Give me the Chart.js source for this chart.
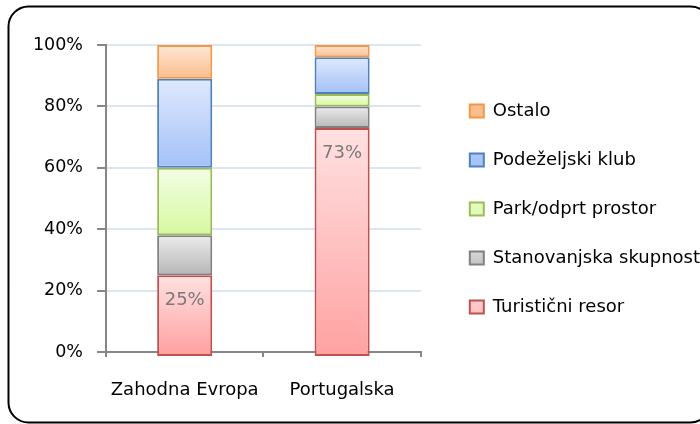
<!DOCTYPE html>
<html>
<head>
<meta charset="utf-8">
<script src="https://cdn.jsdelivr.net/npm/chart.js@4/dist/chart.umd.min.js"></script>
<style>
  html, body { margin: 0; padding: 0; background: #fff; }
  #wrap { width: 700px; height: 424px; }
</style>
</head>
<body>
<div id="wrap"><canvas id="myChart" width="700" height="424"></canvas></div>
<script>
// data (percent of each column)
const categories = ['Zahodna Evropa', 'Portugalska'];
const turisticniResor = [25, 73];
const stanovanjskaSkupnost = [13, 7];
const parkOdprtProstor = [22, 4];
const podezeljskiKlub = [29, 12];
const ostalo = [11, 4];
const yTicks = [0, 20, 40, 60, 80, 100];

// fill goes light at the top of each block to darker at the bottom
function gradientFill(top, bottom, mid) {
	return function(c) {
		const chart = c.chart;
		if (c.type !== 'data' || !chart.chartArea) return mid;
		const y = chart.scales.y;
		let lo = 0;
		for (let k = 0; k < c.datasetIndex; k++) lo += chart.data.datasets[k].data[c.dataIndex];
		const hi = lo + chart.data.datasets[c.datasetIndex].data[c.dataIndex];
		const g = chart.ctx.createLinearGradient(0, y.getPixelForValue(hi), 0, y.getPixelForValue(lo));
		g.addColorStop(0, top);
		g.addColorStop(1, bottom);
		return g;
	};
}

function series(label, data, border, top, bottom, mid) {
	return {
		label: label,
		data: data,
		borderColor: border,
		backgroundColor: gradientFill(top, bottom, mid),
		borderWidth: 2,
		borderSkipped: false,
		clip: false
	};
}

const datasets = [
	series('Turistični resor', turisticniResor, '#c0504d', '#ffe1e1', '#ffa3a3', '#ffc4c4'),
	series('Stanovanjska skupnost', stanovanjskaSkupnost, '#808080', '#ececec', '#b6b6b6', '#d2d2d2'),
	series('Park/odprt prostor', parkOdprtProstor, '#9bbb59', '#f3fde4', '#d6f9a0', '#e6fbc4'),
	series('Podeželjski klub', podezeljskiKlub, '#4f81bd', '#dfe9fd', '#a3c0f7', '#c3d6fa'),
	series('Ostalo', ostalo, '#f79646', '#fde8d6', '#fcbd8c', '#fdd3b0')
];
// bottom block sits a little below the axis line, like the original
datasets[0].base = -1.3;

const frame = {
	id: 'frame',
	afterDraw(chart) {
		const ctx = chart.ctx;
		const x = 8.5, y = 6.5, w = 702, h = 416, r = 20;
		ctx.save();
		ctx.strokeStyle = '#000';
		ctx.lineWidth = 2;
		ctx.beginPath();
		ctx.moveTo(x + r, y);
		ctx.arcTo(x + w, y, x + w, y + h, r);
		ctx.arcTo(x + w, y + h, x, y + h, r);
		ctx.arcTo(x, y + h, x, y, r);
		ctx.arcTo(x, y, x + w, y, r);
		ctx.closePath();
		ctx.stroke();
		ctx.restore();
	}
};

const valueLabels = {
	id: 'valueLabels',
	afterDatasetsDraw(chart) {
		const ctx = chart.ctx;
		const meta = chart.getDatasetMeta(0);
		ctx.save();
		ctx.font = '18px "DejaVu Sans"';
		ctx.fillStyle = '#7a7a7a';
		ctx.textAlign = 'center';
		ctx.textBaseline = 'middle';
		meta.data.forEach((bar, i) => {
			ctx.fillText(chart.data.datasets[0].data[i] + '%', bar.x, bar.y + 25);
		});
		ctx.restore();
	}
};

Chart.defaults.font.family = '"DejaVu Sans"';
Chart.defaults.color = '#000';

var ctx = document.getElementById('myChart').getContext('2d');
var chart = new Chart(ctx, {
	type: 'bar',
	data: {
		labels: categories,
		datasets: datasets
	},
	options: {
		responsive: false,
		animation: false,
		layout: { padding: { top: 45, left: 0, right: -10, bottom: 0 } },
		datasets: {
			bar: { categoryPercentage: 1, barPercentage: 0.35 }
		},
		scales: {
			x: {
				stacked: true,
				grid: { offset: true, drawOnChartArea: false, tickLength: 5, tickColor: '#868686', lineWidth: 2 },
				border: { color: '#868686', width: 2 },
				ticks: { font: { size: 18 }, padding: 23, color: '#000' },
				afterFit(s) { s.height = 72; }
			},
			y: {
				stacked: true,
				min: 0,
				max: 100,
				afterBuildTicks(s) { s.ticks = yTicks.map(v => ({ value: v })); },
				grid: { color: '#dce6f2', lineWidth: 2, tickLength: 9, tickColor: '#868686' },
				border: { color: '#868686', width: 2 },
				ticks: { font: { size: 17.5 }, padding: 14, color: '#000', callback: v => v + '%' },
				afterFit(s) { s.width = 106; }
			},
			gap: {
				type: 'linear',
				position: 'right',
				display: true,
				grid: { display: false },
				border: { display: false },
				ticks: { display: false },
				afterFit(s) { s.width = 18; }
			}
		},
		plugins: {
			legend: {
				position: 'right',
				fullSize: false,
				maxWidth: 320,
				reverse: true,
				title: { display: true, text: '', font: { size: 10 }, padding: { top: 9, bottom: 0 } },
				labels: { font: { size: 18 }, boxWidth: 14, boxHeight: 13, padding: 31, color: '#000' }
			},
			tooltip: { enabled: false }
		}
	},
	plugins: [frame, valueLabels]
});
</script>
</body>
</html>
